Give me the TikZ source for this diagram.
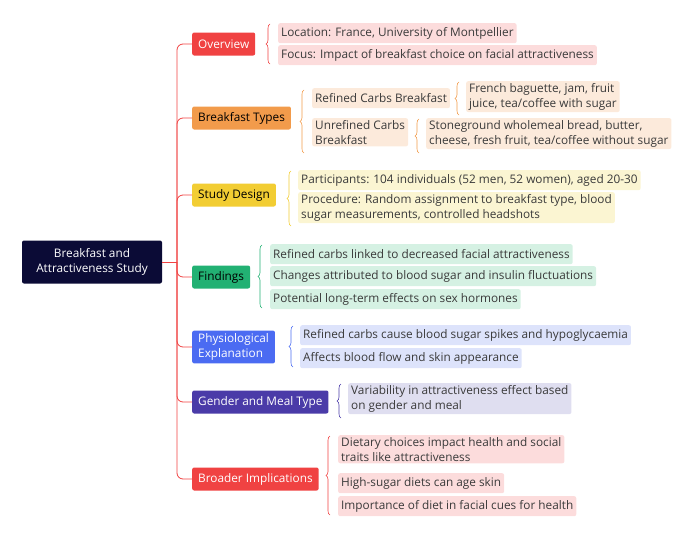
\documentclass[tikz,border=0pt]{standalone}
\usepackage{fontspec}
\setmainfont{Open Sans}
\usetikzlibrary{positioning,decorations.pathreplacing}
\definecolor{navy}{HTML}{0B0B36}
\definecolor{cred}{HTML}{F04242}
\definecolor{corange}{HTML}{F29B4B}
\definecolor{cyellow}{HTML}{F2CD33}
\definecolor{cgreen}{HTML}{22B173}
\definecolor{cblue}{HTML}{4B6BF2}
\definecolor{cindigo}{HTML}{4A3BA8}
\definecolor{lred}{HTML}{FCDCDC}
\definecolor{lorange}{HTML}{FCEADB}
\definecolor{lyellow}{HTML}{FBF5D2}
\definecolor{lgreen}{HTML}{D5F1E3}
\definecolor{lblue}{HTML}{DDE3FB}
\definecolor{lindigo}{HTML}{DFDEF0}
\definecolor{ltext}{HTML}{3A3A3A}
\tikzset{
  cat/.style={anchor=west,rounded corners=2pt,inner xsep=6pt,inner ysep=3pt,minimum height=23pt,align=left,font=\fontsize{11.8}{15}\selectfont},
  leaf/.style={anchor=north west,rounded corners=2pt,inner xsep=3pt,inner ysep=2pt,minimum height=20pt,align=left,text=ltext,font=\fontsize{11.8}{15}\selectfont},
  br/.style={decorate,decoration={brace,amplitude=4pt},line width=0.6pt}
}
\begin{document}
\begin{tikzpicture}[x=1pt,y=-1pt]
	\useasboundingbox (0,0) rectangle (700,538);
	\node[fill=navy,text=white,rounded corners=2pt,minimum width=140pt,minimum height=43pt,align=center,font=\fontsize{11.8}{15}\selectfont] (root) at (92,262) {Breakfast and\\Attractiveness Study};
	\coordinate (trunk) at (177,262);
	
	% categories
	\node[cat,fill=cred,text=white] (ov) at (192,44) {Overview};
	\node[cat,fill=corange,text=black] (bt) at (192,118) {Breakfast Types};
	\node[cat,fill=cyellow,text=black] (sd) at (192,195) {Study Design};
	\node[cat,fill=cgreen,text=black] (fi) at (192,277) {Findings};
	\node[cat,fill=cblue,text=white] (pe) at (192,347) {Physiological\\Explanation};
	\node[cat,fill=cindigo,text=white] (gm) at (192,402) {Gender and Meal Type};
	\node[cat,fill=cred,text=white] (bi) at (192,479) {Broader Implications};
	
	% trunk
	\draw[cred,line width=0.8pt] (root.east) -- (trunk);
	\foreach \c in {ov,bt,sd,fi,pe,gm,bi}
		\draw[cred,line width=0.8pt,rounded corners=6pt] (trunk) |- (\c.west);
	
	% overview
	\node[leaf,fill=lred] (ov1) at (278,23) {Location: France, University of Montpellier};
	\node[leaf,fill=lred] (ov2) at (278,45) {Focus: Impact of breakfast choice on facial attractiveness};
	\draw[br,cred] (270,64) -- (270,24);
	
	% breakfast types
	\node[leaf,fill=lorange] (bt1) at (312,88) {Refined Carbs Breakfast};
	\node[leaf,fill=lorange] (bt2) at (312,118) {Unrefined Carbs\\Breakfast};
	\node[leaf,fill=lorange] (bt1a) at (466,81) {French baguette, jam, fruit\\juice, tea/coffee with sugar};
	\node[leaf,fill=lorange] (bt2a) at (426,118) {Stoneground wholemeal bread, butter,\\cheese, fresh fruit, tea/coffee without sugar};
	\draw[br,corange] (304,153) -- (304,90);
	\draw[br,corange] (459,115) -- (459,82);
	\draw[br,corange] (419,153) -- (419,119);
	
	% study design
	\node[leaf,fill=lyellow] (sd1) at (298,170) {Participants: 104 individuals (52 men, 52 women), aged 20-30};
	\node[leaf,fill=lyellow] (sd2) at (298,192) {Procedure: Random assignment to breakfast type, blood\\sugar measurements, controlled headshots};
	\draw[br,cyellow] (291,226) -- (291,171);
	
	% findings
	\node[leaf,fill=lgreen] (fi1) at (270,244) {Refined carbs linked to decreased facial attractiveness};
	\node[leaf,fill=lgreen] (fi2) at (270,266) {Changes attributed to blood sugar and insulin fluctuations};
	\node[leaf,fill=lgreen] (fi3) at (270,289) {Potential long-term effects on sex hormones};
	\draw[br,cgreen] (262,308) -- (262,245);
	
	% physiological explanation
	\node[leaf,fill=lblue] (pe1) at (300,325) {Refined carbs cause blood sugar spikes and hypoglycaemia};
	\node[leaf,fill=lblue] (pe2) at (300,348) {Affects blood flow and skin appearance};
	\draw[br,cblue] (293,367) -- (293,326);
	
	% gender and meal type
	\node[leaf,fill=lindigo] (gm1) at (348,383) {Variability in attractiveness effect based\\on gender and meal};
	\draw[br,cindigo] (341,418) -- (341,384);
	
	% broader implications
	\node[leaf,fill=lred] (bi1) at (338,435) {Dietary choices impact health and social\\traits like attractiveness};
	\node[leaf,fill=lred] (bi2) at (338,473) {High-sugar diets can age skin};
	\node[leaf,fill=lred] (bi3) at (338,496) {Importance of diet in facial cues for health};
	\draw[br,cred] (330,515) -- (330,436);
\end{tikzpicture}
\end{document}
